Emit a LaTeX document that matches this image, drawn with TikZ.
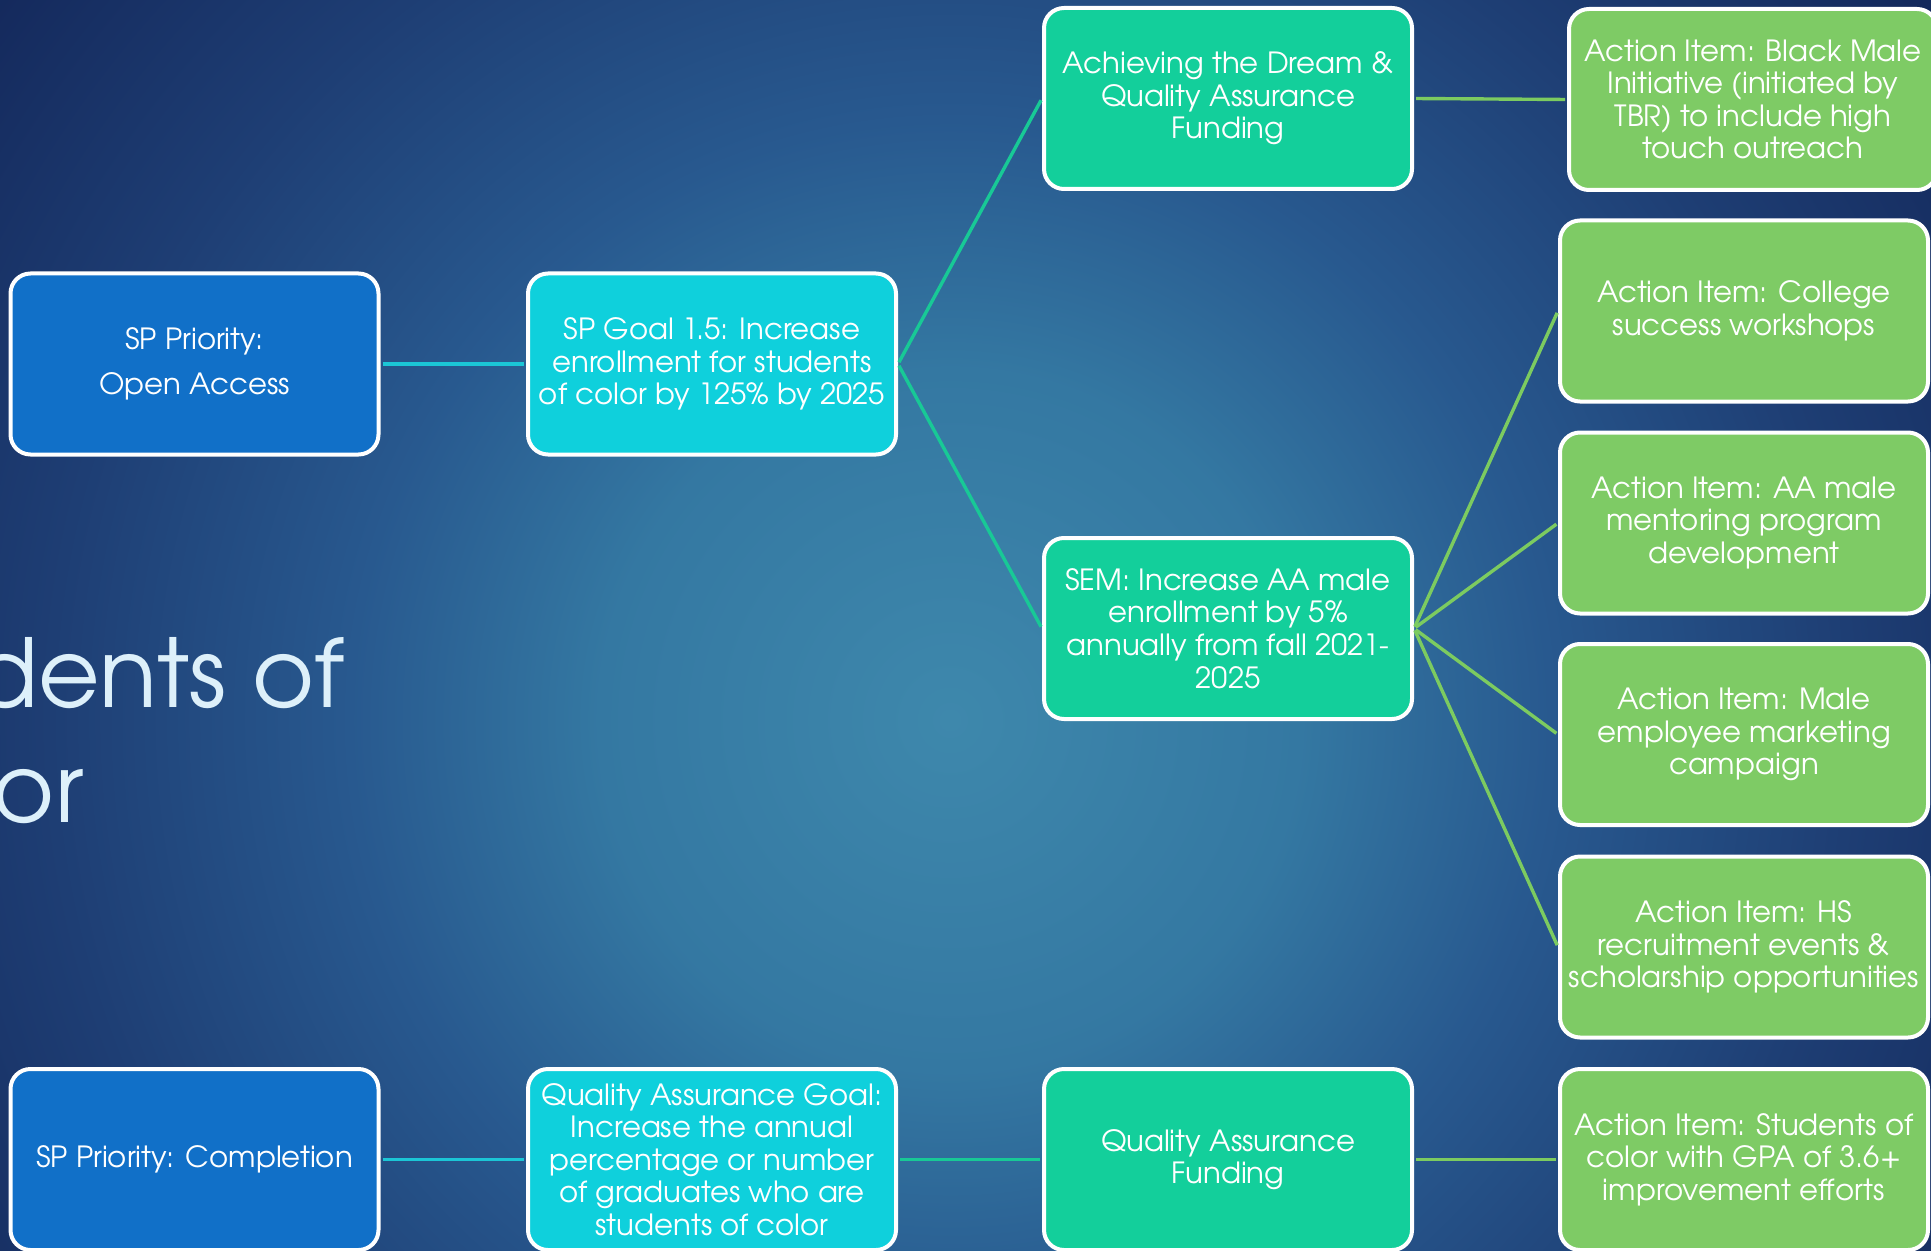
\documentclass[tikz,border=0pt]{standalone}
\usepackage{fontspec}
\setmainfont{texgyreadventor-regular.otf}
\definecolor{bgA}{HTML}{3E88AC}
\definecolor{bgA2}{HTML}{3478A2}
\definecolor{bgB}{HTML}{28598F}
\definecolor{bgC}{HTML}{1E3E74}
\definecolor{bgD}{HTML}{14295C}
\definecolor{titlecol}{HTML}{DDF0FA}
\definecolor{c1}{HTML}{1170C8}
\definecolor{c2}{HTML}{0FD0DC}
\definecolor{c3}{HTML}{13CF9B}
\definecolor{c4}{HTML}{7ECB65}
\definecolor{l1}{HTML}{1BC6D6}
\definecolor{l2}{HTML}{18C996}
\definecolor{l3}{HTML}{7CCB60}
\pgfdeclareradialshading{bgshade}{\pgfpoint{0bp}{0bp}}{color(0bp)=(bgA); color(7bp)=(bgA2); color(12bp)=(bgB); color(18bp)=(bgC); color(24bp)=(bgD); color(50bp)=(bgD)}
\tikzset{
  box/.style={draw=white, line width=2pt, rounded corners=10pt,
    minimum width=184pt, minimum height=90.5pt, align=center, text=white,
    inner sep=2pt, font=\fontsize{14.6}{16.3}\selectfont},
  boxA/.style={box, fill=c1},
  boxB/.style={box, fill=c2},
  boxC/.style={box, fill=c3},
  boxD/.style={box, fill=c4},
  link/.style={line width=1.7pt, shorten <=1pt, shorten >=1pt},
  title/.style={text=titlecol, font=\fontsize{47.4}{56}\selectfont, inner sep=0pt}
}
\begin{document}
\begin{tikzpicture}[x=0.5pt,y=-0.5pt]
\useasboundingbox (0,0) rectangle (1931,1251);
\clip (0,0) rectangle (1931,1251);
\path[shading=bgshade] (950,720) circle (1250);

\node[title, anchor=base east] (t1) at (345,707) {dents of};
\node[title, anchor=base east] (t2) at (84,822) {or};

\node[boxA] (pOA) at (194.5,364) {SP Priority:\\[6.25pt]Open Access};
\node[boxB] (goal) at (712,364) {SP Goal 1.5: Increase\\enrollment for students\\of color by 125\% by 2025};
\node[boxC] (atd) at (1228,98.5) {Achieving the Dream \&\\Quality Assurance\\Funding};
\node[boxC] (sem) at (1228,628.5) {SEM: Increase AA male\\enrollment by 5\%\\annually from fall 2021-\\2025};
\node[boxD] (bmi) at (1753,99.5) {Action Item: Black Male\\Initiative (initiated by\\TBR) to include high\\touch outreach};
\node[boxD] (csw) at (1744,311) {Action Item: College\\success workshops};
\node[boxD] (aam) at (1744,523) {Action Item: AA male\\mentoring program\\development};
\node[boxD] (mem) at (1744,734.5) {Action Item: Male\\employee marketing\\campaign};
\node[boxD] (hsr) at (1744,947) {Action Item: HS\\recruitment events \&\\scholarship opportunities};

\node[boxA] (pC) at (194.5,1159.5) {SP Priority: Completion};
\node[boxB] (qag) at (712,1159.5) {Quality Assurance Goal:\\Increase the annual\\percentage or number\\of graduates who are\\students of color};
\node[boxC] (qaf) at (1228,1159.5) {Quality Assurance\\Funding};
\node[boxD] (soc) at (1744,1159.5) {Action Item: Students of\\color with GPA of 3.6+\\improvement efforts};

\draw[link, l1] (pOA.east) -- (goal.west);
\draw[link, l2] (goal.east) -- (atd.west);
\draw[link, l2] (goal.east) -- (sem.west);
\draw[link, l3] (atd.east) -- (bmi.west);
\draw[link, l3] (sem.east) -- (csw.west);
\draw[link, l3] (sem.east) -- (aam.west);
\draw[link, l3] (sem.east) -- (mem.west);
\draw[link, l3] (sem.east) -- (hsr.west);
\draw[link, l1] (pC.east) -- (qag.west);
\draw[link, l2] (qag.east) -- (qaf.west);
\draw[link, l3] (qaf.east) -- (soc.west);
\end{tikzpicture}
\end{document}
